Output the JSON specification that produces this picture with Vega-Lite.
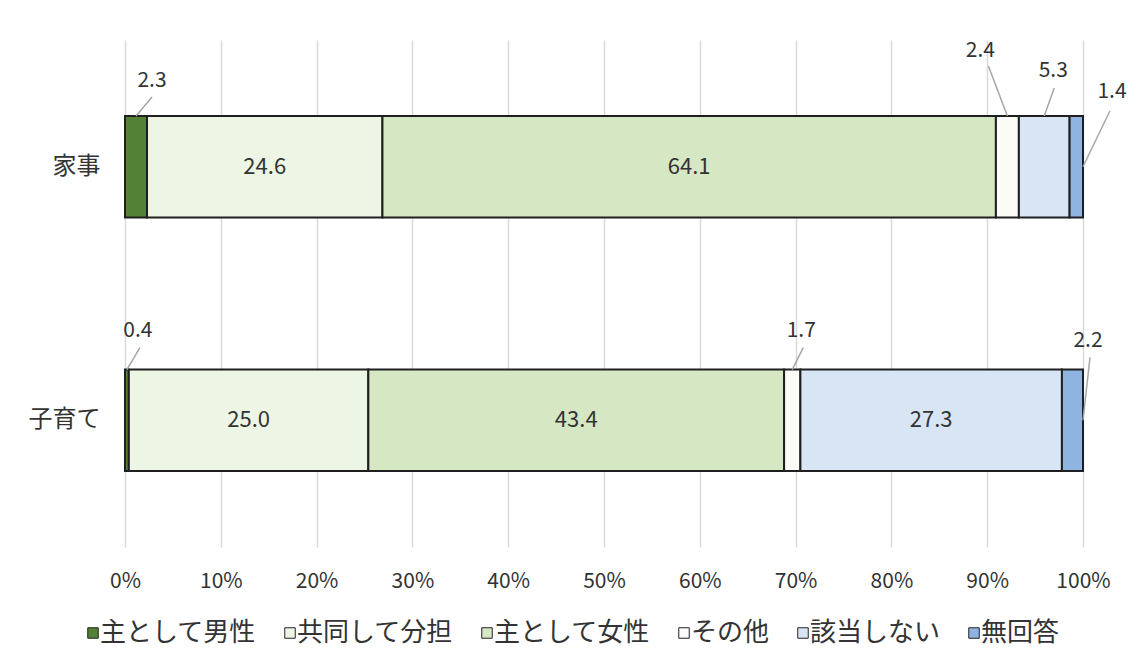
{
  "$schema": "https://vega.github.io/schema/vega-lite/v6.json",
  "width": 958,
  "height": 507,
  "autosize": {"type": "none"},
  "padding": {"left": 125, "top": 40, "right": 53, "bottom": 117},
  "background": "#ffffff",
  "config": {
    "view": {"stroke": null},
    "font": "Noto Sans CJK JP",
    "text": {"font": "Noto Sans CJK JP", "color": "#333333"}
  },
  "data": {
    "values": [
      {"cat": "家事", "cls": "主として男性", "ord": 1, "v": 2.3},
      {"cat": "家事", "cls": "共同して分担", "ord": 2, "v": 24.6},
      {"cat": "家事", "cls": "主として女性", "ord": 3, "v": 64.1},
      {"cat": "家事", "cls": "その他", "ord": 4, "v": 2.4},
      {"cat": "家事", "cls": "該当しない", "ord": 5, "v": 5.3},
      {"cat": "家事", "cls": "無回答", "ord": 6, "v": 1.4},
      {"cat": "子育て", "cls": "主として男性", "ord": 1, "v": 0.4},
      {"cat": "子育て", "cls": "共同して分担", "ord": 2, "v": 25.0},
      {"cat": "子育て", "cls": "主として女性", "ord": 3, "v": 43.4},
      {"cat": "子育て", "cls": "その他", "ord": 4, "v": 1.7},
      {"cat": "子育て", "cls": "該当しない", "ord": 5, "v": 27.3},
      {"cat": "子育て", "cls": "無回答", "ord": 6, "v": 2.2}
    ]
  },
  "transform": [
    {"stack": "v", "groupby": ["cat"], "sort": [{"field": "ord", "order": "ascending"}], "as": ["x0", "x1"], "offset": "normalize"},
    {"calculate": "(datum.x0 + datum.x1) / 2", "as": "mid"}
  ],
  "encoding": {
    "y": {
      "field": "cat",
      "type": "nominal",
      "scale": {"domain": ["家事", "子育て"], "paddingInner": 0.6, "paddingOuter": 0.3},
      "axis": {"title": null, "domain": false, "ticks": false, "labelFontSize": 24, "labelColor": "#333333", "labelPadding": 25, "labelFont": "Noto Sans CJK JP"}
    }
  },
  "layer": [
    {
      "mark": {"type": "bar", "stroke": "#1f1f1f", "strokeWidth": 2},
      "encoding": {
        "x": {
          "field": "x0",
          "type": "quantitative",
          "scale": {"domain": [0, 1]},
          "axis": {"title": null, "values": [0, 0.1, 0.2, 0.3, 0.4, 0.5, 0.6, 0.7, 0.8, 0.9, 1], "format": ".0%", "domain": false, "ticks": false, "grid": true, "gridColor": "#d9d9d9", "gridWidth": 1.5, "labelFontSize": 21, "labelColor": "#333333", "labelPadding": 23, "labelFlush": false, "labelFont": "Noto Sans CJK JP"}
        },
        "x2": {"field": "x1"},
        "color": {
          "field": "cls",
          "type": "nominal",
          "scale": {
            "domain": ["主として男性", "共同して分担", "主として女性", "その他", "該当しない", "無回答"],
            "range": ["#538135", "#edf5e4", "#d5e8c3", "#fbfcf8", "#d7e5f4", "#8fb4e2"]
          },
          "legend": {
            "title": null,
            "orient": "none",
            "legendX": -45,
            "legendY": 580,
            "direction": "horizontal",
            "columns": 6,
            "columnPadding": 20,
            "symbolType": "square",
            "symbolSize": 110,
            "symbolStrokeColor": "#222222",
            "symbolStrokeWidth": 1,
            "labelFontSize": 26,
            "labelFont": "Noto Sans CJK JP",
            "labelColor": "#333333",
            "labelOffset": -6
          }
        }
      }
    },
    {
      "transform": [{"filter": "datum.v >= 10"}],
      "mark": {"type": "text", "fontSize": 22, "baseline": "middle", "align": "center"},
      "encoding": {
        "x": {"field": "mid", "type": "quantitative"},
        "text": {"field": "v", "type": "quantitative", "format": ".1f"}
      }
    },
    {
      "transform": [{"filter": "datum.v < 10 && datum.cls != '無回答'"}],
      "mark": {
        "type": "rule",
        "color": "#a6a6a6",
        "strokeWidth": 1.5,
        "x2Offset": {"expr": "datum.cls == 'その他' && datum.cat == '家事' ? -19 : datum.cls == '該当しない' ? 10 : datum.cls == '主として男性' ? (datum.cat == '家事' ? 16 : 13) : 11"},
        "y2Offset": {"expr": "datum.cls == 'その他' && datum.cat == '家事' ? -50 : datum.cls == '該当しない' ? -28 : datum.cat == '家事' ? -19 : -22"}
      },
      "encoding": {
        "x": {"field": "mid", "type": "quantitative"},
        "x2": {"field": "mid"},
        "y": {"field": "cat", "type": "nominal", "bandPosition": 0},
        "y2": {"field": "cat", "bandPosition": 0}
      }
    },
    {
      "transform": [{"filter": "datum.v < 10 && datum.cls != '無回答'"}],
      "mark": {
        "type": "text",
        "fontSize": 21,
        "baseline": "middle",
        "align": "center",
        "dx": {"expr": "datum.cls == 'その他' && datum.cat == '家事' ? -27 : datum.cls == '該当しない' ? 9 : datum.cls == '主として男性' ? (datum.cat == '家事' ? 16 : 11) : 9"},
        "dy": {"expr": "datum.cls == 'その他' && datum.cat == '家事' ? -65 : datum.cls == '該当しない' ? -45 : datum.cat == '家事' ? -35 : -39"}
      },
      "encoding": {
        "x": {"field": "mid", "type": "quantitative"},
        "y": {"field": "cat", "type": "nominal", "bandPosition": 0},
        "text": {"field": "v", "type": "quantitative", "format": ".1f"}
      }
    },
    {
      "transform": [{"filter": "datum.cls == '無回答'"}],
      "mark": {
        "type": "rule",
        "color": "#a6a6a6",
        "strokeWidth": 1.5,
        "x2Offset": {"expr": "datum.cat == '家事' ? 27 : 7"},
        "y2Offset": {"expr": "datum.cat == '家事' ? -56 : -63"}
      },
      "encoding": {
        "x": {"field": "x1", "type": "quantitative"},
        "x2": {"field": "x1"},
        "y": {"field": "cat", "type": "nominal", "bandPosition": 0.5},
        "y2": {"field": "cat", "bandPosition": 0.5}
      }
    },
    {
      "transform": [{"filter": "datum.cls == '無回答'"}],
      "mark": {
        "type": "text",
        "fontSize": 21,
        "baseline": "middle",
        "align": "center",
        "dx": {"expr": "datum.cat == '家事' ? 29 : 5"},
        "dy": {"expr": "datum.cat == '家事' ? -75 : -79"}
      },
      "encoding": {
        "x": {"field": "x1", "type": "quantitative"},
        "y": {"field": "cat", "type": "nominal", "bandPosition": 0.5},
        "text": {"field": "v", "type": "quantitative", "format": ".1f"}
      }
    }
  ]
}
